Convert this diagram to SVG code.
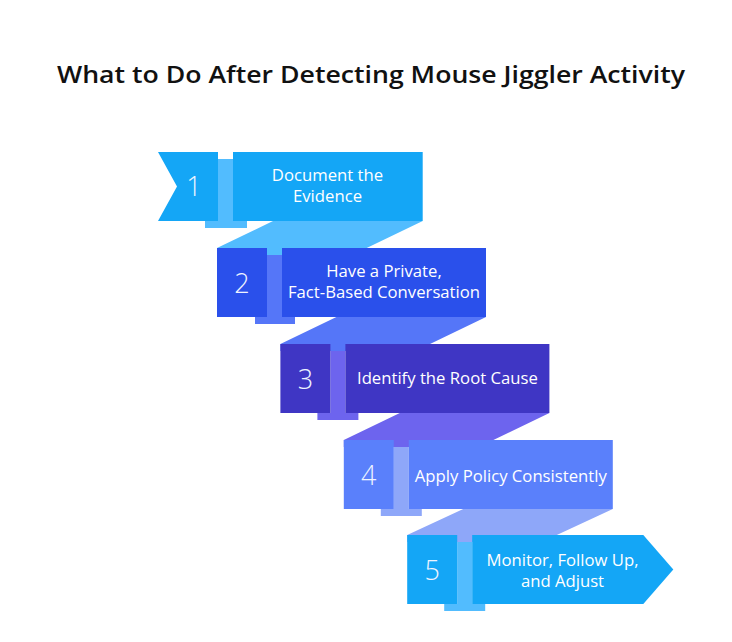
<svg xmlns="http://www.w3.org/2000/svg" width="732" height="642" viewBox="0 0 732 642">
<style>
.title{font-family:"Open Sans","Liberation Sans",sans-serif;font-weight:600;font-size:24px;fill:#111;}
.lbl{font-family:"Open Sans","Liberation Sans",sans-serif;font-weight:500;font-size:16.7px;fill:#fff;text-anchor:middle;}
.num{font-family:"Open Sans","Liberation Sans",sans-serif;font-weight:300;font-size:27px;fill:#eef3ff;text-anchor:middle;}
.c1{fill:#14A6F6;} .s1{fill:#52BCFE;}
.c2{fill:#2A50EB;} .s2{fill:#5576F8;}
.c3{fill:#3F36C4;} .s3{fill:#6D64EE;}
.c4{fill:#5A80FB;} .s4{fill:#8EA7F9;}
</style>
<rect width="732" height="642" fill="#fff"/>
<text class="title" x="371" y="83" text-anchor="middle" textLength="628" lengthAdjust="spacingAndGlyphs">What to Do After Detecting Mouse Jiggler Activity</text>
<g id="connectors">
  <polygon class="s1" points="273,221 422.7,221 366.7,248 366.7,255 217,255 217,248"/>
  <polygon class="s2" points="336.4,317 486,317 430,344 430,351 280.4,351 280.4,344"/>
  <polygon class="s3" points="399.8,413 549.4,413 493.4,440 493.4,447 343.8,447 343.8,440"/>
  <polygon class="s4" points="463.2,509 612.8,509 556.8,535 556.8,542 407.2,542 407.2,535"/>
</g>
<g id="step1">
  <rect class="s1" x="218" y="159" width="15" height="62"/>
  <rect class="s1" x="205" y="221" width="42" height="7"/>
  <polygon class="c1" points="158,152 218,152 218,221 158,221 177,186.5"/>
  <rect class="c1" x="233" y="152" width="189.7" height="69"/>
  <text class="num" x="194" y="196">1</text>
  <text class="lbl" x="327.5" y="181">Document the<tspan x="327.5" dy="21">Evidence</tspan></text>
</g>
<g id="step2">
  <rect class="s2" x="267" y="255" width="15" height="62"/>
  <rect class="s2" x="255" y="317" width="40" height="7"/>
  <rect class="c2" x="217" y="248" width="50" height="69"/>
  <rect class="c2" x="282" y="248" width="204" height="69"/>
  <text class="num" x="242" y="292.5">2</text>
  <text class="lbl" x="384" y="277">Have a Private,<tspan x="384" dy="21">Fact-Based Conversation</tspan></text>
</g>
<g id="step3">
  <rect class="s3" x="330.4" y="351" width="15" height="62"/>
  <rect class="s3" x="317.4" y="413" width="41" height="7"/>
  <rect class="c3" x="280.4" y="344" width="50" height="69"/>
  <rect class="c3" x="345.4" y="344" width="204" height="69"/>
  <text class="num" x="305.4" y="388.5">3</text>
  <text class="lbl" x="447.4" y="384">Identify the Root Cause</text>
</g>
<g id="step4">
  <rect class="s4" x="393.8" y="447" width="15" height="62"/>
  <rect class="s4" x="380.8" y="509" width="41" height="7"/>
  <rect class="c4" x="343.8" y="440" width="50" height="69"/>
  <rect class="c4" x="408.8" y="440" width="204" height="69"/>
  <text class="num" x="368.8" y="484.5">4</text>
  <text class="lbl" x="510.8" y="482">Apply Policy Consistently</text>
</g>
<g id="step5">
  <rect class="s1" x="457.2" y="542" width="15" height="62"/>
  <rect class="s1" x="444.2" y="604" width="41" height="7"/>
  <rect class="c1" x="407.2" y="535" width="50" height="69"/>
  <polygon class="c1" points="472.2,535 643.3,535 673.3,569.5 643.3,604 472.2,604"/>
  <text class="num" x="432.2" y="579.5">5</text>
  <text class="lbl" x="562.5" y="566">Monitor, Follow Up,<tspan x="562.5" dy="21">and Adjust</tspan></text>
</g>
</svg>
